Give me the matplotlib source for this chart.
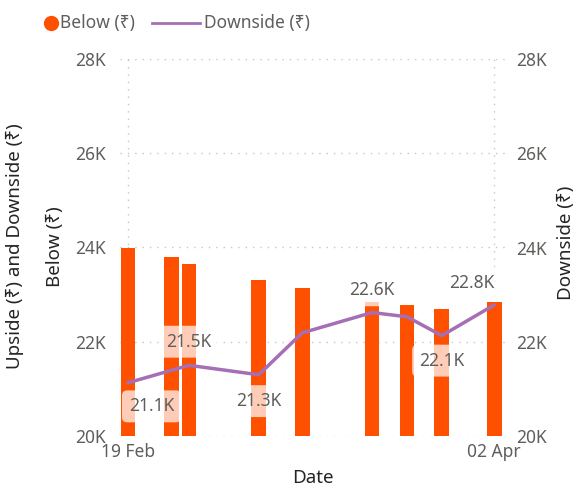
import numpy as np
import matplotlib.pyplot as plt
import matplotlib.dates as mdates
from matplotlib.lines import Line2D

plt.rcParams['font.family'] = ['Noto Sans', 'DejaVu Sans']

# data
bar_dates = ['2023-02-19', '2023-02-24', '2023-02-26', '2023-03-06', '2023-03-11',
             '2023-03-19', '2023-03-23', '2023-03-27', '2023-04-02']
below = [23980, 23790, 23660, 23300, 23130, 22840, 22780, 22700, 22850]

line_dates = ['2023-02-19', '2023-02-26', '2023-03-06', '2023-03-11',
              '2023-03-19', '2023-03-23', '2023-03-27', '2023-04-02']
downside = [21130, 21500, 21300, 22190, 22620, 22530, 22130, 22780]

# which points get a label, and where (offset in points)
label_idx = [0, 1, 2, 4, 6, 7]
label_off = [(17, -17), (0, 17), (0, -19), (0, 16), (0, -18), (-16, 16)]

yticks = [20000, 22000, 24000, 26000, 28000]
ytick_labels = ['20K', '22K', '24K', '26K', '28K']

bx = [np.datetime64(d) for d in bar_dates]
lx = [np.datetime64(d) for d in line_dates]

orange = '#FF5000'
purple = '#A66FB5'
grey = '#605E5C'
dark = '#252423'
gridc = '#C8C6C4'
fs = 12.5

fig = plt.figure(figsize=(5.77, 4.94), dpi=100)
ax = fig.add_axes([120/577, 1-436/494, 385/577, 377/494])

ax.bar(bx, below, width=1.7, bottom=0, color=orange, zorder=2)
ax.set_ylim(20000, 28000)
ax.set_xlim(np.datetime64('2023-02-19') - np.timedelta64(22, 'h'),
            np.datetime64('2023-04-02') + np.timedelta64(30, 'h'))
ax.set_yticks(yticks)
ax.set_yticklabels(ytick_labels)
ax.set_xticks([np.datetime64('2023-02-19'), np.datetime64('2023-04-02')])
ax.xaxis.set_major_formatter(mdates.DateFormatter('%d %b'))

ax.grid(True, color=gridc, linestyle=(0, (1, 4.3)), linewidth=1, zorder=0)
ax.set_axisbelow(True)
for s in ax.spines.values():
    s.set_visible(False)
ax.tick_params(axis='both', length=0, labelsize=fs, colors=grey)
ax.tick_params(axis='y', pad=10)
ax.tick_params(axis='x', pad=5)

ax2 = ax.twinx()
ax2.set_ylim(20000, 28000)
ax2.set_yticks(yticks)
ax2.set_yticklabels(ytick_labels)
for s in ax2.spines.values():
    s.set_visible(False)
ax2.tick_params(axis='y', length=0, labelsize=fs, colors=grey, pad=8)

ax2.plot(lx, downside, color=purple, linewidth=2.5, zorder=3, solid_capstyle='round')

for i, off in zip(label_idx, label_off):
    v = downside[i]
    ax2.annotate(f'{v/1000:.1f}K', (lx[i], v), xytext=off, textcoords='offset points',
                 ha='center', va='center', fontsize=fs, color=grey, zorder=5,
                 bbox=dict(boxstyle='round,pad=0.4,rounding_size=0.3',
                           fc='white', ec='none', alpha=0.72))

ax.set_xlabel('Date', fontsize=13.5, color=dark, labelpad=6)

fig.text(15/577, 1-246/494, 'Upside (₹) and Downside (₹)', rotation=90,
         ha='center', va='center', fontsize=13.5, color=dark)
fig.text(55/577, 1-247/494, 'Below (₹)', rotation=90,
         ha='center', va='center', fontsize=13.5, color=dark)
fig.text(566/577, 1-243/494, 'Downside (₹)', rotation=90,
         ha='center', va='center', fontsize=13.5, color=dark)

# legend, drawn by hand
ly = 1 - 23/494
fig.add_artist(Line2D([51/577], [ly], marker='o', color=orange, markersize=10,
                      linestyle='none', transform=fig.transFigure))
fig.text(60/577, ly, 'Below (₹)', ha='left', va='center', fontsize=fs, color=grey)
fig.add_artist(Line2D([152/577, 200/577], [ly, ly], color=purple, linewidth=2,
                      transform=fig.transFigure))
fig.text(204/577, ly, 'Downside (₹)', ha='left', va='center', fontsize=fs, color=grey)

fig.savefig('out.png', dpi=100)
